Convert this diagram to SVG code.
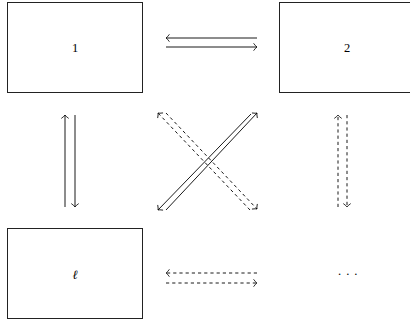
<svg xmlns="http://www.w3.org/2000/svg" width="410" height="325" viewBox="0 0 410 325">
<style>
.box{fill:#fff;stroke:#222;stroke-width:1}
.lbl{font-family:"Liberation Serif","DejaVu Serif",serif;font-size:12.5px;fill:#000;text-anchor:middle}
.c{fill:none;stroke:#000;stroke-width:0.9;marker-end:url(#to)}
.d{stroke-dasharray:3.2 3}
</style>
<defs>
<marker id="to" markerUnits="userSpaceOnUse" markerWidth="10" markerHeight="10" viewBox="-5 -5 10 10" refX="0" refY="0" orient="auto" overflow="visible">
<path d="M-3.2,-3.4 Q-1.2,-0.6 0,0 Q-1.2,0.6 -3.2,3.4" fill="none" stroke="#000" stroke-width="0.8" stroke-linecap="round"/>
</marker>
</defs>
<g id="node-1"><rect class="box" x="7.5" y="2.5" width="135" height="90"/><text class="lbl" x="75" y="52">1</text></g>
<g id="node-2"><rect class="box" x="279.5" y="2.5" width="135" height="90"/><text class="lbl" x="347" y="52">2</text></g>
<g id="node-l"><rect class="box" x="7.5" y="228.5" width="135" height="90"/><text class="lbl" x="75" y="279" font-style="italic">ℓ</text></g>
<g id="node-dots"><text x="337.5" y="278" font-family="Liberation Serif, serif" font-size="12.5px" letter-spacing="4" fill="#000">···</text></g>
<g id="connectors">
<line class="c" x1="257" y1="38" x2="166" y2="38"/>
<line class="c" x1="166" y1="47" x2="257" y2="47"/>
<line class="c" x1="65" y1="207" x2="65" y2="115"/>
<line class="c" x1="75" y1="115" x2="75" y2="207"/>
<line class="c d" x1="338" y1="207" x2="338" y2="115"/>
<line class="c d" x1="347" y1="115" x2="347" y2="207"/>
<line class="c d" x1="257" y1="273" x2="166" y2="273"/>
<line class="c d" x1="166" y1="283" x2="257" y2="283"/>
<line class="c" x1="251" y1="114" x2="158" y2="210"/>
<line class="c" x1="166" y1="210" x2="257" y2="113"/>
<line class="c d" x1="250" y1="210" x2="158" y2="113"/>
<line class="c d" x1="166" y1="113" x2="257" y2="209"/>
</g>
</svg>
